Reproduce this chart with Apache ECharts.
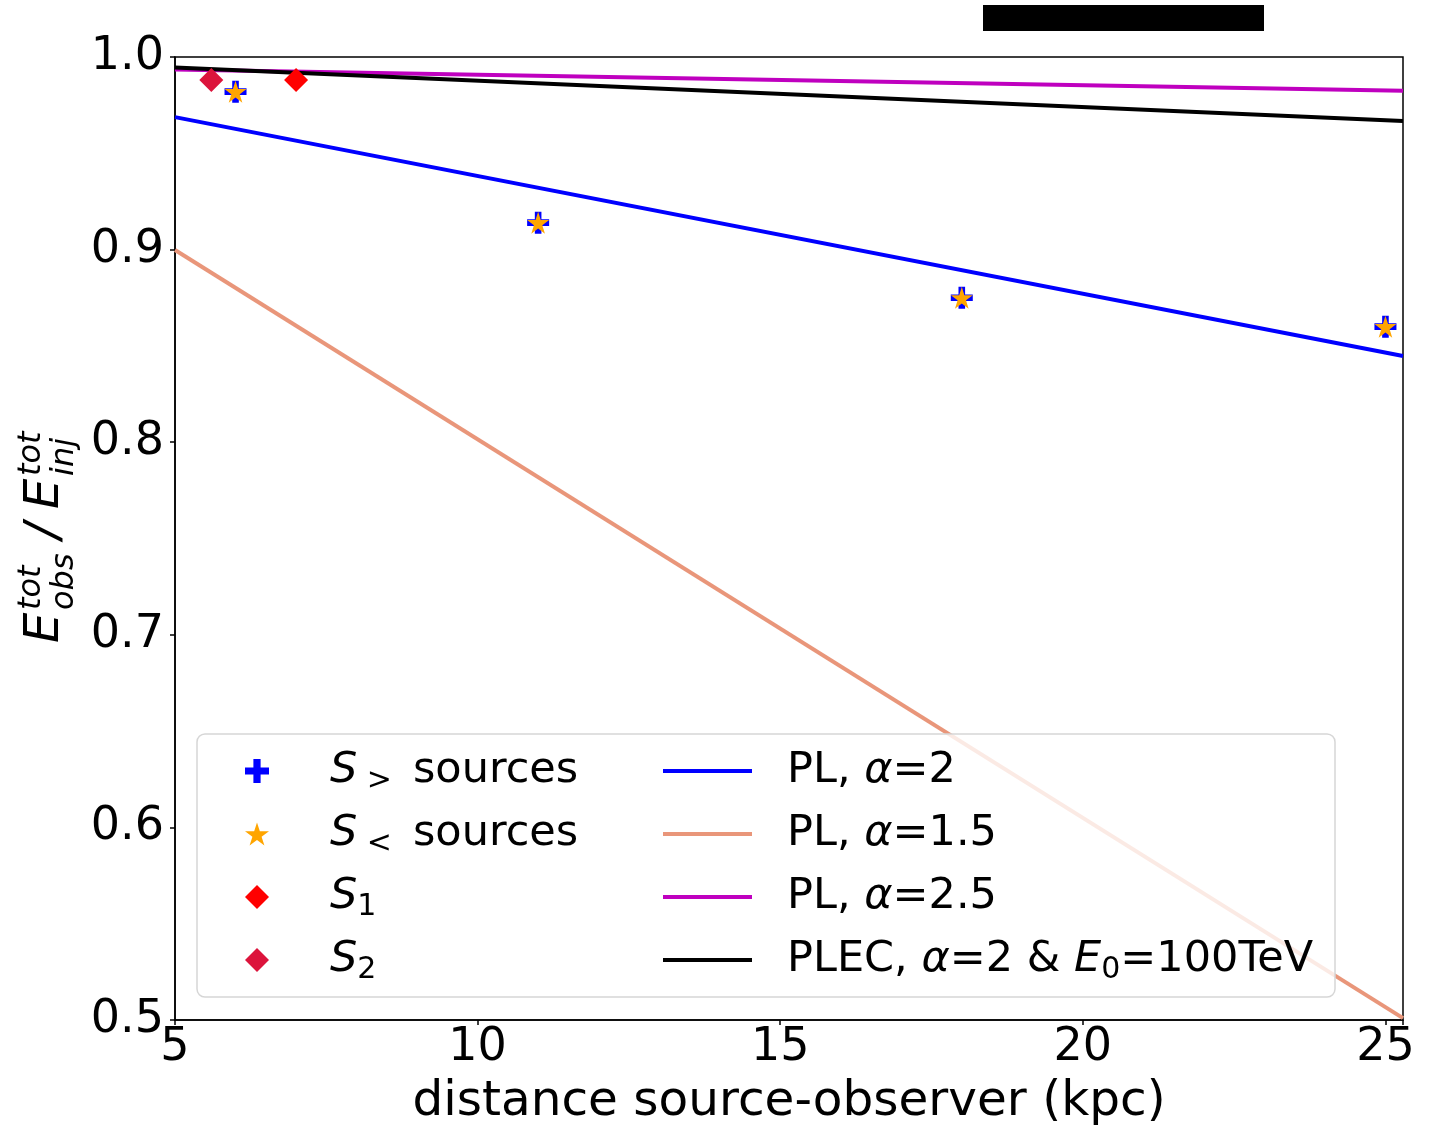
<!DOCTYPE html>
<html>
<head>
<meta charset="utf-8">
<script src="https://cdn.jsdelivr.net/npm/echarts@6/dist/echarts.min.js"></script>
<style>
  html, body { margin: 0; padding: 0; background: #fff; }
  #main { width: 1432px; height: 1125px; }
</style>
</head>
<body>
<div id="main"></div>
<script>
// source distances (kpc) and energy ratios
const srcDist = [6, 11, 18, 25];
const sGreater = [0.982, 0.914, 0.875, 0.860];
const sLess = [0.982, 0.914, 0.875, 0.860];
const s1Point = [7.0, 0.988];
const s2Point = [5.6, 0.988];

// model curves, values at the left and right edge of the plot
const curveDist = [5, 25.29];
const pl2 = [0.9688, 0.8448];
const pl15 = [0.8998, 0.5010];
const pl25 = [0.9935, 0.9825];
const plec = [0.9945, 0.9668];

const xTicks = [5, 10, 15, 20, 25];
const yTicks = [0.5, 0.6, 0.7, 0.8, 0.9, 1.0];

const FONT = 'DejaVu Sans';
const plusPath = 'path://M7 0 H13 V7 H20 V13 H13 V20 H7 V13 H0 V7 H7 Z';
const starPath = 'path://M10 0 L12.245 6.91 L19.51 6.91 L13.63 11.18 L15.88 18.09 L10 13.82 L4.12 18.09 L6.37 11.18 L0.49 6.91 L7.755 6.91 Z';

const zip = (xs, ys) => xs.map((x, i) => [x, ys[i]]);

const chart = echarts.init(document.getElementById('main'));

const legendRich = {
  pad: { width: 56 },
  pad2: { width: 30 },
  gap: { width: 21 },
  it: { fontStyle: 'italic', fontSize: 43, fontFamily: FONT, lineHeight: 50 },
  sub: { fontSize: 30, fontFamily: FONT, lineHeight: 22, verticalAlign: 'bottom' }
};

const leftLabels = {
  'S> sources': '{pad|}{it|S}{sub| >}{gap|}sources',
  'S< sources': '{pad|}{it|S}{sub| <}{gap|}sources',
  'S1': '{pad|}{it|S}{sub|1}',
  'S2': '{pad|}{it|S}{sub|2}'
};
const rightLabels = {
  'PL, α=2': '{pad2|}PL, {it|α}=2',
  'PL, α=1.5': '{pad2|}PL, {it|α}=1.5',
  'PL, α=2.5': '{pad2|}PL, {it|α}=2.5',
  'PLEC': '{pad2|}PLEC, {it|α}=2 & {it|E}{sub|0}=100TeV'
};

function lineSeries(name, vals, color) {
  return {
    name: name,
    type: 'line',
    data: zip(curveDist, vals),
    showSymbol: false,
    symbol: 'none',
    color: color,
    lineStyle: { width: 4, color: color },
    z: 2
  };
}

function scatterSeries(name, data, symbol, size, color) {
  return {
    name: name,
    type: 'scatter',
    data: data,
    symbol: symbol,
    symbolSize: size,
    color: color,
    itemStyle: { color: color, opacity: 1 },
    z: 3
  };
}

// y axis title with super/subscripts, built from rotated text pieces
function yTitle() {
  const big = { fontSize: 48, fontFamily: FONT, fontStyle: 'italic', fill: '#000', verticalAlign: 'middle' };
  const small = { fontSize: 32, fontFamily: FONT, fontStyle: 'italic', fill: '#000', verticalAlign: 'middle' };
  const t = (text, x, y, st) => ({ type: 'text', x: x, y: y, style: Object.assign({ text: text }, st) });
  return {
    type: 'group',
    x: 46,
    y: 643,
    rotation: Math.PI / 2,
    children: [
      t('E', 0, 0, big),
      t('tot', 33, -14, small),
      t('obs', 33, 19, small),
      t('/', 104, 0, big),
      t('E', 134, 0, big),
      t('tot', 167, -14, small),
      t('inj', 167, 19, small)
    ]
  };
}

const option = {
  backgroundColor: '#fff',
  animation: false,
  grid: {
    left: 175, right: 29, top: 57, bottom: 105,
    outerBoundsMode: 'none',
    containLabel: false,
    show: true, borderColor: '#000', borderWidth: 1.5
  },
  xAxis: {
    type: 'value',
    min: 5, max: curveDist[1], interval: 5,
    name: 'distance source-observer (kpc)',
    nameLocation: 'middle',
    nameGap: 58,
    nameTextStyle: { fontSize: 48.5, fontFamily: FONT, color: '#000' },
    axisLine: { onZero: false, lineStyle: { color: '#000', width: 1.5 } },
    axisTick: { length: 5, lineStyle: { color: '#000', width: 1.5 } },
    axisLabel: {
      fontSize: 46, fontFamily: FONT, color: '#000', margin: 5,
      formatter: v => (xTicks.some(t => Math.abs(t - v) < 1e-6) ? String(v) : '')
    },
    splitLine: { show: false }
  },
  yAxis: {
    type: 'value',
    min: yTicks[0], max: yTicks[yTicks.length - 1], interval: 0.1,
    axisLine: { show: true, onZero: false, lineStyle: { color: '#000', width: 1.5 } },
    axisTick: { show: true, length: 5, lineStyle: { color: '#000', width: 1.5 } },
    axisLabel: {
      fontSize: 46, fontFamily: FONT, color: '#000', margin: 11,
      formatter: v => v.toFixed(1)
    },
    splitLine: { show: false }
  },
  legend: [
    {
      left: 245, top: 746, padding: 0,
      orient: 'vertical',
      itemWidth: 24, itemHeight: 24, itemGap: 13,
      data: ['S> sources', 'S< sources', 'S1', 'S2'],
      formatter: n => leftLabels[n],
      textStyle: { fontSize: 43, fontFamily: FONT, color: '#000', lineHeight: 50, rich: legendRich },
      z: 5
    },
    {
      left: 663, top: 746, padding: 0,
      orient: 'vertical',
      itemWidth: 89, itemHeight: 4, itemGap: 13,
      data: [
        { name: 'PL, α=2', icon: 'rect' },
        { name: 'PL, α=1.5', icon: 'rect' },
        { name: 'PL, α=2.5', icon: 'rect' },
        { name: 'PLEC', icon: 'rect' }
      ],
      formatter: n => rightLabels[n],
      textStyle: { fontSize: 43, fontFamily: FONT, color: '#000', lineHeight: 50, rich: legendRich },
      z: 5
    }
  ],
  graphic: [
    {
      type: 'rect', z: 4,
      shape: { x: 197, y: 734, width: 1138, height: 263, r: 8 },
      style: { fill: 'rgba(255,255,255,0.8)', stroke: '#d6d6d6', lineWidth: 1.5 }
    },
    {
      type: 'rect', z: 10,
      shape: { x: 983, y: 5, width: 281, height: 26 },
      style: { fill: '#000' }
    },
    yTitle()
  ],
  series: [
    lineSeries('PL, α=2', pl2, '#0000ff'),
    lineSeries('PL, α=1.5', pl15, '#e9967a'),
    lineSeries('PL, α=2.5', pl25, '#bf00bf'),
    lineSeries('PLEC', plec, '#000000'),
    scatterSeries('S> sources', zip(srcDist, sGreater), plusPath, 22, '#0000ff'),
    scatterSeries('S< sources', zip(srcDist, sLess), starPath, 22, '#ffa500'),
    scatterSeries('S1', [s1Point], 'diamond', 24, '#ff0000'),
    scatterSeries('S2', [s2Point], 'diamond', 24, '#dc143c')
  ]
};

chart.setOption(option);
</script>
</body>
</html>
